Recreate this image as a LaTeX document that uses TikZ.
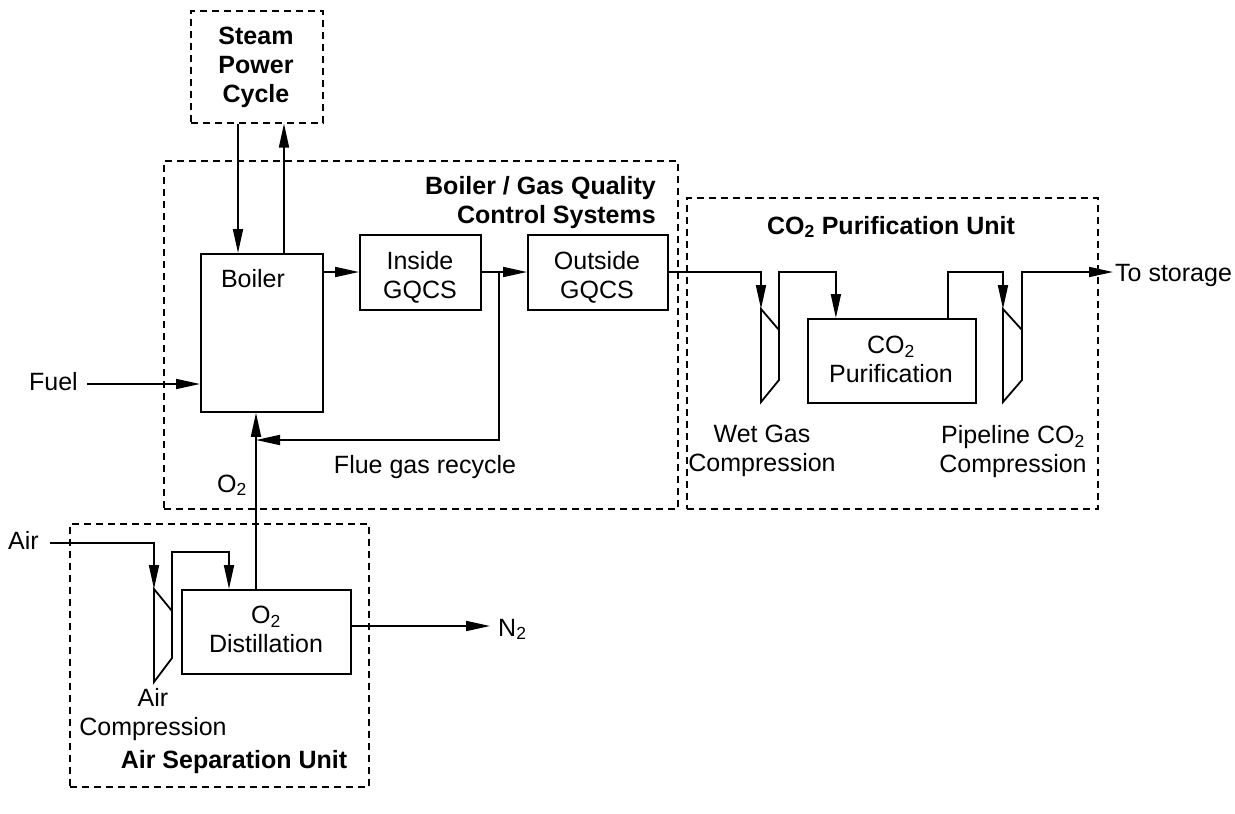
\documentclass[tikz,border=0pt]{standalone}
\usepackage{fontspec}
\setmainfont{Liberation Sans}
\usetikzlibrary{arrows.meta,calc}
\begin{document}
\begin{tikzpicture}[x=1pt,y=-1pt,
  every node/.style={font=\fontsize{25}{29}\selectfont, inner sep=0pt, align=center},
  lbl/.style={font=\bfseries\fontsize{25}{29}\selectfont},
  unit/.style={draw, dash pattern=on 7pt off 5pt, line width=1.6pt, anchor=north west},
  box/.style={draw, line width=1.8pt, anchor=north west},
  pipe/.style={line width=1.8pt},
  flow/.style={line width=1.8pt, -{Triangle[length=24pt,width=10pt]}},
  comp/.style={draw, line width=1.8pt, line join=miter}]
\useasboundingbox (0,0) rectangle (1235,814);

% unit (dashed) boxes
\node[unit, minimum width=132pt, minimum height=112pt] (steam) at (190,10) {};
\node[unit, minimum width=514pt, minimum height=348pt] (bgq) at (163,160) {};
\node[unit, minimum width=411pt, minimum height=311pt] (cpu) at (686,197) {};
\node[unit, minimum width=299pt, minimum height=263pt] (asu) at (69,523) {};

% unit labels
\node[lbl, anchor=north] (steamtxt) at (256,27) {Steam\\Power\\Cycle};
\node[lbl, anchor=north east, align=right] (bgqtxt) at (656,176) {Boiler / Gas Quality\\Control Systems};
\node[lbl, anchor=base] (cputxt) at (891,234) {CO\textsubscript{2} Purification Unit};
\node[lbl, anchor=base] (asutxt) at (234,768) {Air Separation Unit};

% process boxes
\node[box, minimum width=122pt, minimum height=158pt] (boiler) at (200,253) {};
\node[anchor=base] (boilertxt) at (253,287) {Boiler};
\node[box, minimum width=121pt, minimum height=75pt] (inside) at (359,234) {};
\node[anchor=north] (insidetxt) at (420,251) {Inside\\GQCS};
\node[box, minimum width=140pt, minimum height=75pt] (outside) at (527,234) {};
\node[anchor=north] (outsidetxt) at (597,251) {Outside\\GQCS};
\node[box, minimum width=168pt, minimum height=84pt] (purif) at (807,318) {};
\node[anchor=north] (puriftxt) at (891,336) {CO\textsubscript{2}\\Purification};
\node[box, minimum width=169pt, minimum height=84pt] (o2dist) at (181,589) {};
\node[anchor=north] (o2disttxt) at (266,606) {O\textsubscript{2}\\Distillation};

% compressors
\coordinate (wetin) at (761,309);
\coordinate (wetout) at (779,330);
\draw[comp] (wetin) -- (wetout) -- (779,380) -- (761,402) -- cycle;
\coordinate (pipein) at (1003,309);
\coordinate (pipeout) at (1022,330);
\draw[comp] (pipein) -- (pipeout) -- (1022,380) -- (1003,402) -- cycle;
\coordinate (airin) at (154,589);
\coordinate (airout) at (172,611);
\draw[comp] (airin) -- (airout) -- (172,658) -- (154,682) -- cycle;

% free labels
\node[anchor=base east] (fuel) at (78,390) {Fuel};
\node[anchor=base west] (o2lbl) at (217,492) {O\textsubscript{2}};
\node[anchor=base] (fgr) at (425,473) {Flue gas recycle};
\node[anchor=base east] (air) at (39,549) {Air};
\node[anchor=base west] (n2) at (498,636) {N\textsubscript{2}};
\node[anchor=base west] (store) at (1115,281) {To storage};
\node[anchor=north] (aircomp) at (153,688) {Air\\Compression};
\node[anchor=north] (wetcomp) at (762,425) {Wet Gas\\Compression};
\node[anchor=north] (pipecomp) at (1013,425) {Pipeline CO\textsubscript{2}\\Compression};

% helper coordinates
\coordinate (pin) at ([xshift=-56pt]purif.north);
\coordinate (pout) at ([xshift=56pt]purif.north);
\coordinate (jn) at (499,272);
\coordinate (rec) at (256,440);
\coordinate (airstart) at (50,543);
\coordinate (airtop) at (172,552);
\coordinate (din) at (229,589);
\coordinate (o2src) at (256,589);
\coordinate (n2src) at (350,626);
\coordinate (fuelstart) at (87,384);

% connectors
\draw[flow] (steam.south -| 238,0) -- (boiler.north -| 238,0);
\draw[flow] (boiler.north -| 284,0) -- (steam.south -| 284,0);
\draw[flow] (boiler.east |- jn) -- (inside.west |- jn);
\draw[flow] (inside.east |- jn) -- (outside.west |- jn);
\draw[flow] (jn) -- (jn |- rec) -- (rec);
\draw[flow] (fuelstart) -- (boiler.west |- fuelstart);
\draw[flow] (o2src) -- (boiler.south -| o2src);
\draw[flow] (outside.east |- jn) -- (wetin |- jn) -- (wetin);
\draw[flow] (wetout) -- (wetout |- jn) -- (pin |- jn) -- (pin);
\draw[flow] (pout) -- (pout |- jn) -- (pipein |- jn) -- (pipein);
\draw[flow] (pipeout) -- (pipeout |- jn) -- ([xshift=-2pt]store.west |- jn);
\draw[flow] (airstart) -- (airin |- airstart) -- (airin);
\draw[flow] (airout) -- (airtop) -- (din |- airtop) -- (din);
\draw[flow] (n2src) -- (490,626);
\end{tikzpicture}
\end{document}
